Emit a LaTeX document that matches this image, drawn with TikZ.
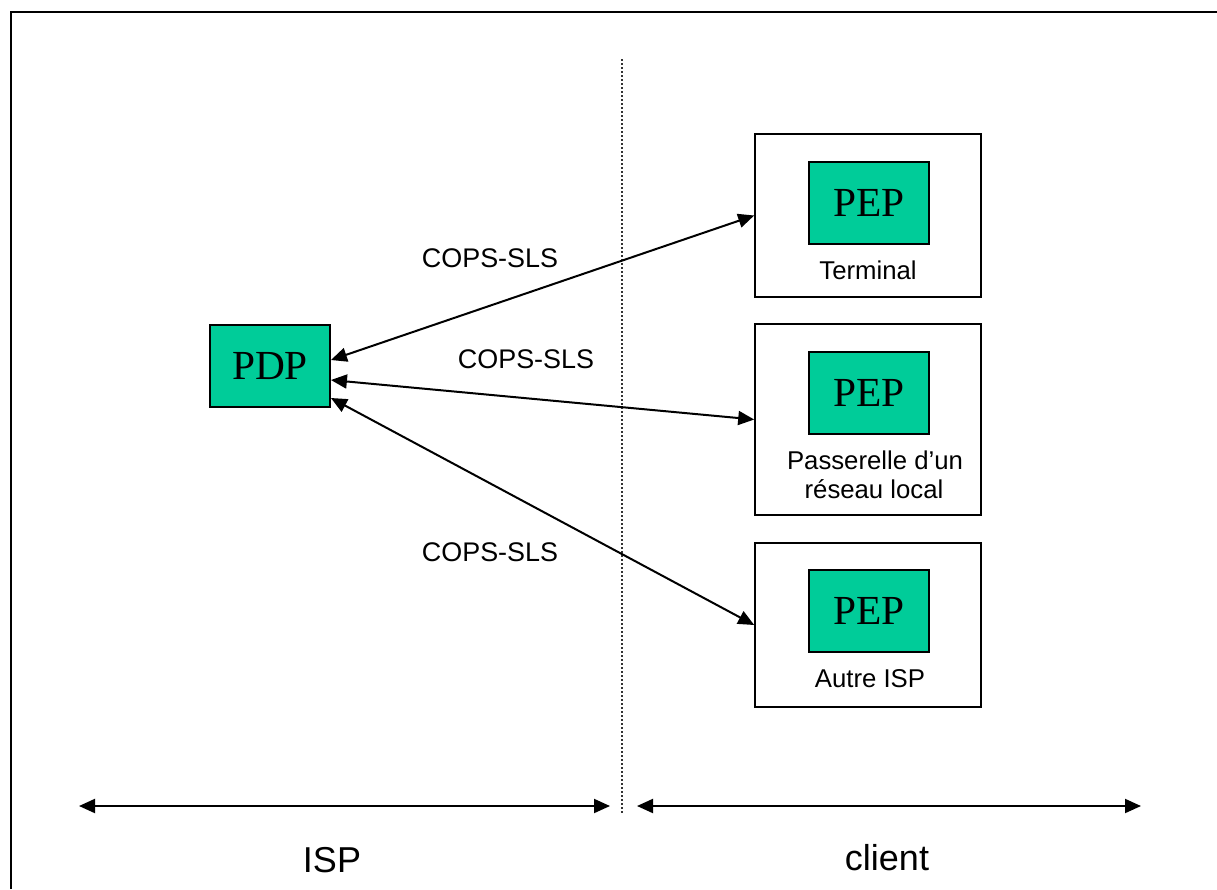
\documentclass[tikz,border=0pt]{standalone}
\usepackage{fontspec}
\setmainfont{Liberation Serif}
\newfontfamily\arialf{Liberation Sans}
\usetikzlibrary{arrows.meta}
\definecolor{pgreen}{RGB}{0,204,153}
\tikzset{
  greenbox/.style={draw=black, line width=1.4pt, fill=pgreen, minimum width=90pt, minimum height=61.5pt, inner sep=0pt, font=\fontsize{31}{33}\selectfont},
  outerbox/.style={draw=black, line width=1.2pt, fill=white, minimum width=169.5pt, inner sep=0pt},
  smalllabel/.style={font=\arialf\fontsize{19.3}{22}\selectfont, inner sep=0pt, anchor=base, align=center},
  copslabel/.style={font=\arialf\fontsize{20.2}{24}\selectfont, inner sep=0pt, anchor=base},
  biglabel/.style={font=\arialf\fontsize{27}{30}\selectfont, inner sep=0pt, anchor=base},
  conn/.style={line width=1.5pt, {Triangle[length=12pt,width=10.5pt]}-{Triangle[length=12pt,width=10.5pt]}},
  frameline/.style={line width=1.7pt},
  divider/.style={line width=1.1pt, draw=black!80, dash pattern=on 1.5pt off 1.5pt}
}
\begin{document}
\begin{tikzpicture}[x=0.75pt,y=-0.75pt]
\useasboundingbox (0,0) rectangle (1217,889);
% frame
\coordinate (fbl) at (11,889);
\coordinate (ftl) at (11,12);
\coordinate (ftr) at (1217,12);
\draw[frameline] (fbl) -- (ftl) -- (ftr);
% divider
\coordinate (dtop) at (622,59);
\coordinate (dbot) at (622,814);
\draw[divider] (dtop) -- (dbot);
% outer boxes
\node[outerbox, minimum height=122.25pt] (box1) at (868,215.5) {};
\node[outerbox, minimum height=143.25pt] (box2) at (868,419.5) {};
\node[outerbox, minimum height=123pt] (box3) at (868,625) {};
% green boxes
\node[greenbox] (pdp) at (270,366) {PDP};
\node[greenbox] (pep1) at (869,203) {PEP};
\node[greenbox] (pep2) at (869,393) {PEP};
\node[greenbox] (pep3) at (869,611) {PEP};
% labels in boxes
\node[smalllabel] (t1) at (868,279) {Terminal};
\node[smalllabel] (t2a) at (875,469) {Passerelle d’un};
\node[smalllabel] (t2b) at (874,498) {réseau local};
\node[smalllabel] (t3) at (870,687) {Autre ISP};
% connectors
\draw[conn] ([yshift=4.5pt]pdp.east) -- (box1.west);
\draw[conn] ([yshift=-10.5pt]pdp.east) -- (box2.west);
\draw[conn] ([yshift=-24pt]pdp.east) -- (box3.west);
\node[copslabel] (c1) at (490,267) {COPS-SLS};
\node[copslabel] (c2) at (526,368) {COPS-SLS};
\node[copslabel] (c3) at (490,561) {COPS-SLS};
% bottom extents
\coordinate (la) at (79,806);
\coordinate (lb) at (610,806);
\coordinate (ra) at (637,806);
\coordinate (rb) at (1141,806);
\draw[conn] (la) -- (lb);
\draw[conn] (ra) -- (rb);
\node[biglabel] (isp) at (332,872) {ISP};
\node[biglabel] (client) at (887,870) {client};
\end{tikzpicture}
\end{document}
